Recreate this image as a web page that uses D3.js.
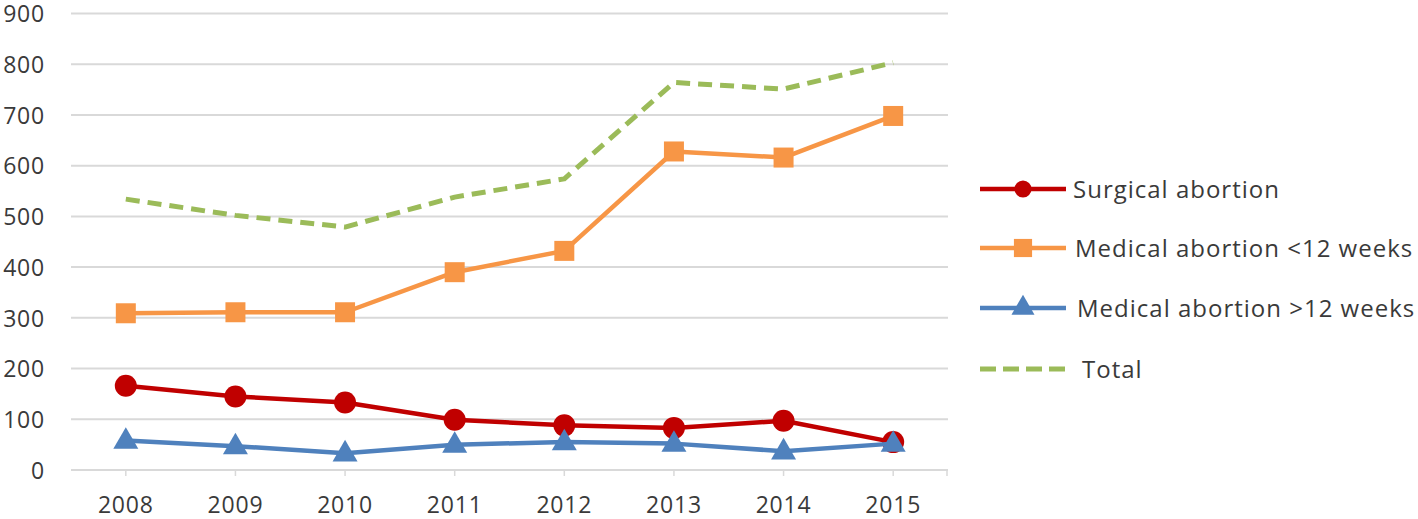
<!DOCTYPE html>
<html>
<head>
<meta charset="utf-8">
<script src="https://cdn.jsdelivr.net/npm/d3@7"></script>
<style>
  html, body { margin: 0; padding: 0; background: #fff; }
  svg text { font-family: "Open Sans", "Noto Sans", sans-serif; fill: #3a3a3a; }
</style>
</head>
<body>
<svg id="chart" width="1418" height="519"></svg>
<script>
const years = ["2008","2009","2010","2011","2012","2013","2014","2015"];
const yTicks = [0,100,200,300,400,500,600,700,800,900];
const surgical = [166,145,133,99,88,83,97,55];
const medicalLt12 = [309,311,311,390,432,628,616,698];
const medicalGt12 = [58,47,33,50,55,52,37,52];
const total = [534,502,479,538,574,764,751,803];
const seriesNames = ["Surgical abortion","Medical abortion <12 weeks","Medical abortion >12 weeks","Total"];

const series = [
  {name: seriesNames[0], values: surgical, color: "#C00000", marker: "circle", dash: null},
  {name: seriesNames[1], values: medicalLt12, color: "#F79646", marker: "square", dash: null},
  {name: seriesNames[2], values: medicalGt12, color: "#4F81BD", marker: "triangle", dash: null},
  {name: seriesNames[3], values: total, color: "#9BBB59", marker: null, dash: "14,8"}
];

const svg = d3.select("#chart");
const plotL = 71, plotR = 948, plotT = 13.5, plotB = 470;

const x = d3.scaleBand().domain(years).range([plotL, plotR]);
const y = d3.scaleLinear().domain([0, 900]).range([plotB, plotT]);
const cx = d => x(d) + x.bandwidth() / 2;

// gridlines
svg.append("g").selectAll("line").data(yTicks).join("line")
  .attr("x1", plotL).attr("x2", plotR)
  .attr("y1", d => y(d)).attr("y2", d => y(d))
  .attr("stroke", "#d9d9d9").attr("stroke-width", 2);

// y axis labels
const yAxis = d3.axisLeft(y).tickValues(yTicks).tickSize(0).tickPadding(0);
const gy = svg.append("g").attr("transform", `translate(45,0)`).call(yAxis);
gy.select(".domain").remove();
gy.selectAll("text").attr("font-size", 23).attr("dy", "0.36em")
  .style("letter-spacing", "0.8px")
  .style("font-family", "'Open Sans', sans-serif").attr("fill", "#3a3a3a");

// x axis
const xAxis = d3.axisBottom(x).tickSize(6).tickPadding(25);
const gx = svg.append("g").attr("transform", `translate(0,${plotB})`).call(xAxis);
gx.select(".domain").remove();
gx.selectAll(".tick line").attr("stroke", "#d9d9d9").attr("stroke-width", 1.5);
gx.selectAll("text").attr("font-size", 23).attr("dy", "0.5em")
  .style("letter-spacing", "0.8px")
  .style("font-family", "'Open Sans', sans-serif").attr("fill", "#3a3a3a");
gx.append("line").attr("x1", plotR - 1).attr("x2", plotR - 1).attr("y1", 0).attr("y2", 6)
  .attr("stroke", "#d9d9d9").attr("stroke-width", 1.5);

const line = d3.line().x((d, i) => cx(years[i])).y(d => y(d));

const symbolFor = m => m === "circle" ? d3.symbol(d3.symbolCircle, 380)
                    : m === "square" ? d3.symbol(d3.symbolSquare, 400)
                    : d3.symbol(d3.symbolTriangle, 270);

// draw order: total, medical<12, surgical, medical>12
const order = [3, 1, 0, 2];
order.forEach(k => {
  const s = series[k];
  const g = svg.append("g");
  g.append("path").datum(s.values)
    .attr("d", line).attr("fill", "none")
    .attr("stroke", s.color).attr("stroke-width", s.dash ? 5 : 4.5)
    .attr("stroke-linejoin", "round")
    .attr("stroke-dasharray", s.dash);
  if (s.marker) {
    g.selectAll("path.m").data(s.values).join("path").attr("class", "m")
      .attr("d", symbolFor(s.marker)())
      .attr("transform", (d, i) => `translate(${cx(years[i])},${y(d) + (s.marker === "triangle" ? 1 : 0)})`)
      .attr("fill", s.color);
  }
});

// legend
const legY = [189, 248, 308, 369];
const lg = svg.append("g");
series.forEach((s, i) => {
  const g = lg.append("g").attr("transform", `translate(0,${legY[i]})`);
  g.append("line").attr("x1", 980).attr("x2", 1066).attr("y1", 0).attr("y2", 0)
    .attr("stroke", s.color).attr("stroke-width", s.dash ? 5 : 4.5)
    .attr("stroke-dasharray", s.dash ? "16,7" : null);
  if (s.marker) {
    const sym = s.marker === "circle" ? d3.symbol(d3.symbolCircle, 230)
              : s.marker === "square" ? d3.symbol(d3.symbolSquare, 330)
              : d3.symbol(d3.symbolTriangle, 230);
    g.append("path").attr("d", sym()).attr("transform", `translate(1023,0)`).attr("fill", s.color);
  }
  g.append("text").attr("x", s.dash ? 1082 : (i === 0 ? 1073 : (i === 1 ? 1075 : 1077)))
    .attr("y", 0).attr("dy", "0.36em").attr("font-size", 24)
    .style("letter-spacing", "1px").text(s.name);
});
</script>
</body>
</html>
